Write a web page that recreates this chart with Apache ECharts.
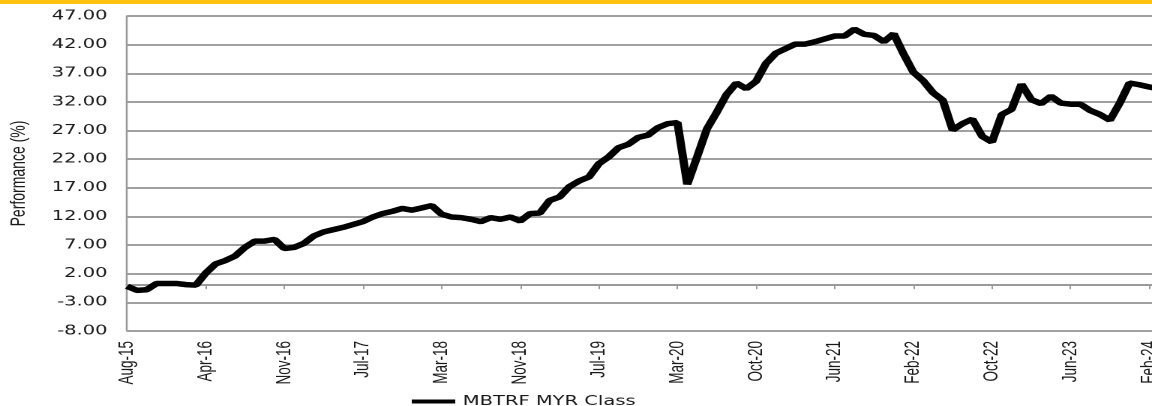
<!DOCTYPE html>
<html>
<head>
<meta charset="utf-8">
<title>MBTRF MYR Class</title>
<script src="https://cdn.jsdelivr.net/npm/echarts@6/dist/echarts.min.js"></script>
<style>
  html, body { margin: 0; padding: 0; background: #fff; overflow: hidden; }
  /* the source picture is stretched 1.5x sideways, so draw narrow and stretch */
  #chart { width: 768px; height: 406px; transform: scaleX(1.5); transform-origin: 0 0; }
</style>
</head>
<body>
<div id="chart"></div>
<script>
// month labels of each point (two months have two points)
const months = [
  "Aug-15", "Sep-15", "Oct-15", "Nov-15", "Dec-15",
  "Jan-16", "Feb-16", "Mar-16", "Apr-16", "May-16", "Jun-16", "Jul-16", "Jul-16",
  "Aug-16", "Sep-16", "Oct-16", "Nov-16", "Dec-16",
  "Jan-17", "Feb-17", "Mar-17", "Apr-17", "May-17", "Jun-17",
  "Jul-17", "Aug-17", "Sep-17", "Oct-17", "Nov-17", "Dec-17",
  "Jan-18", "Feb-18", "Mar-18", "Apr-18", "May-18", "Jun-18",
  "Jul-18", "Aug-18", "Sep-18", "Oct-18", "Nov-18", "Dec-18",
  "Jan-19", "Feb-19", "Mar-19", "Apr-19", "May-19", "Jun-19",
  "Jul-19", "Aug-19", "Sep-19", "Oct-19", "Nov-19", "Dec-19",
  "Jan-20", "Feb-20", "Mar-20", "Apr-20", "May-20", "Jun-20", "Jun-20",
  "Jul-20", "Aug-20", "Sep-20", "Oct-20", "Nov-20", "Dec-20",
  "Jan-21", "Feb-21", "Mar-21", "Apr-21", "May-21", "Jun-21",
  "Jul-21", "Aug-21", "Sep-21", "Oct-21", "Nov-21", "Dec-21",
  "Jan-22", "Feb-22", "Mar-22", "Apr-22", "May-22", "Jun-22",
  "Jul-22", "Aug-22", "Sep-22", "Oct-22", "Nov-22", "Dec-22",
  "Jan-23", "Feb-23", "Mar-23", "Apr-23", "May-23", "Jun-23",
  "Jul-23", "Aug-23", "Sep-23", "Oct-23", "Nov-23", "Dec-23",
  "Jan-24", "Feb-24", "Mar-24"
];

// cumulative performance, %
const mbtrfMyr = [
  -0.2, -0.9, -0.8, 0.3, 0.3, 0.3, 0.1, 0.0,
  2.1, 3.7, 4.3, 5.1, 6.6, 7.7, 7.7, 8.0,
  6.4, 6.6, 7.3, 8.6, 9.3, 9.7, 10.1, 10.6,
  11.1, 11.9, 12.5, 12.9, 13.4, 13.1, 13.5, 13.9,
  12.4, 11.9, 11.8, 11.5, 11.1, 11.8, 11.5, 11.9,
  11.2, 12.5, 12.6, 14.8, 15.4, 17.2, 18.2, 18.9,
  21.2, 22.4, 24.0, 24.6, 25.8, 26.2, 27.5, 28.2,
  28.4, 17.6, 22.4, 27.3, 30.2, 33.3, 35.3, 34.3,
  35.6, 38.7, 40.5, 41.3, 42.1, 42.1, 42.5, 43.0,
  43.5, 43.5, 44.7, 43.8, 43.6, 42.5, 43.9, 40.4,
  37.2, 35.7, 33.6, 32.3, 27.1, 28.2, 29.0, 26.0,
  25.0, 29.8, 30.7, 35.1, 32.4, 31.7, 33.0, 31.8,
  31.6, 31.6, 30.5, 29.8, 28.8, 31.8, 35.3, 35.0,
  34.6, 34.3
];

const seriesName = "MBTRF MYR Class";
const yMin = -8;
const yMax = 47;
const yStep = 5;

const chart = echarts.init(document.getElementById("chart"), null, {
  renderer: "canvas",
  devicePixelRatio: 2
});

chart.setOption({
  animation: false,
  graphic: [
    {
      type: "rect",
      left: 0,
      top: 0,
      shape: { width: 768, height: 4 },
      style: { fill: "#ffc20e" }
    }
  ],
  legend: {
    data: [seriesName],
    left: 269.5,
    top: 390,
    icon: "rect",
    itemWidth: 29,
    itemHeight: 4,
    textStyle: { fontFamily: "DejaVu Sans", fontSize: 13, color: "#1a1a1a" }
  },
  grid: {
    left: 84.7,
    right: -4.7,
    top: 16,
    bottom: 75,
    containLabel: false,
    outerBoundsMode: "none"
  },
  xAxis: [
    {
      // line through zero with the ticks
      type: "category",
      data: months,
      boundaryGap: false,
      axisLine: { onZero: true, lineStyle: { color: "#9a9a9a", width: 2 } },
      axisTick: { interval: 7, length: 4, lineStyle: { color: "#9a9a9a", width: 1 } },
      axisLabel: { show: false },
      splitLine: { show: false }
    },
    {
      // labels along the bottom
      type: "category",
      data: months,
      boundaryGap: false,
      position: "bottom",
      axisLine: { show: false, onZero: false },
      axisTick: { show: false },
      axisLabel: {
        interval: 7,
        rotate: 90,
        margin: 10,
        padding: [4, 0, 0, 0],
        fontFamily: "Liberation Sans",
        fontSize: 13.5,
        color: "#1a1a1a"
      },
      splitLine: { show: false }
    }
  ],
  yAxis: {
    type: "value",
    min: yMin,
    max: yMax,
    interval: yStep,
    name: "Performance (%)",
    nameLocation: "middle",
    nameGap: 65,
    nameTextStyle: { fontFamily: "Liberation Sans", fontSize: 14, color: "#1a1a1a" },
    axisLine: { show: true, lineStyle: { color: "#9a9a9a", width: 1.3 } },
    axisTick: { show: false },
    axisLabel: {
      formatter: (v) => v.toFixed(2),
      margin: 13,
      fontFamily: "DejaVu Sans",
      fontSize: 13,
      color: "#1a1a1a"
    },
    splitLine: { lineStyle: { color: "#a0a0a0", width: 2 } }
  },
  series: [
    {
      name: seriesName,
      type: "line",
      xAxisIndex: 0,
      data: mbtrfMyr,
      symbol: "none",
      showSymbol: false,
      lineStyle: { color: "#000", width: 5.5 },
      itemStyle: { color: "#000" }
    }
  ]
});
</script>
</body>
</html>
